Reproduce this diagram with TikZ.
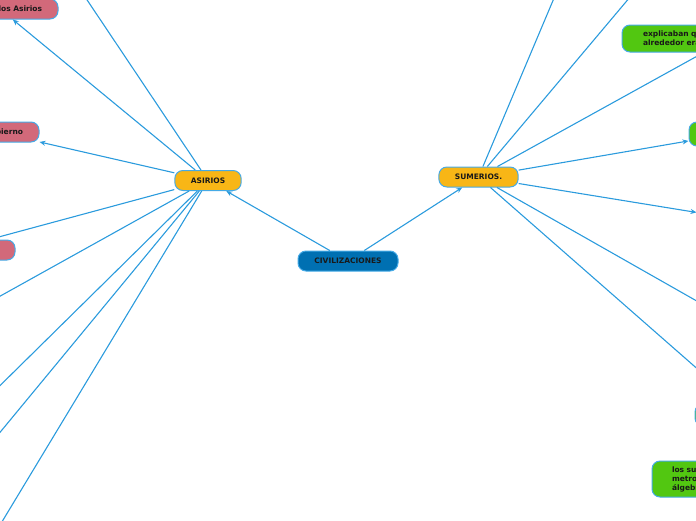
\documentclass[tikz,border=0pt]{standalone}
\usepackage{fontspec}
\setmainfont{DejaVu Sans}
\usetikzlibrary{arrows.meta}
\definecolor{linkblue}{HTML}{2B9BDD}
\definecolor{rimblue}{HTML}{45AAE6}
\definecolor{rootblue}{HTML}{0070B2}
\definecolor{topicgold}{HTML}{F8B616}
\definecolor{leafpink}{HTML}{D2697A}
\definecolor{leafgreen}{HTML}{52C711}

\begin{document}
\begin{tikzpicture}[x=1pt,y=-1pt,
  idea/.style={draw=rimblue,line width=1pt,rounded corners=8pt,minimum height=20pt,
    inner xsep=16pt,inner ysep=3pt,text=black!90,font=\fontsize{7.5}{9}\selectfont\bfseries},
  root/.style={idea,fill=rootblue},
  topic/.style={idea,fill=topicgold},
  pinkleaf/.style={idea,fill=leafpink},
  greenleaf/.style={idea,fill=leafgreen,align=left},
  link/.style={linkblue,line width=1.1pt,-{Stealth[length=6pt,width=5pt]}}]
\useasboundingbox (0,0) rectangle (696,520);
\clip (0,0) rectangle (696,520);

\node[root,minimum width=100pt] (civ) at (348,261) {CIVILIZACIONES};
\node[topic] (asirios) at (208,180.5) {ASIRIOS};
\node[topic] (sumerios) at (478.5,177) {SUMERIOS.};

\node[pinkleaf,text width=84pt,align=right] (reyes) at (0,9) {los Asirios};
\node[pinkleaf,text width=54pt,align=right] (gobierno) at (-4,132) {bierno};
\node[pinkleaf,minimum width=64pt] (asir3) at (-17,250) {};
\coordinate (asir1) at (63,-36);
\coordinate (asir4) at (-41,319);
\coordinate (asir5) at (-41,426);
\coordinate (asir6) at (-41,482);
\coordinate (asir7) at (-38,588);

\node[greenleaf,text width=172pt,inner xsep=21pt,minimum height=27pt] (explica) at (729,38.5) {explicaban qu\\alrededor era};
\node[greenleaf,minimum width=80pt,minimum height=24pt] (sumer2) at (729,134) {};
\node[greenleaf,minimum width=80pt,minimum height=24pt] (sumer3) at (737,219) {};
\node[greenleaf,minimum width=110pt,minimum height=22pt] (sumer6) at (750,415) {};
\node[greenleaf,text width=100pt,inner xsep=20pt,minimum height=36pt] (sumer7) at (722,479) {los sur\\metro\\álgebr};
\coordinate (sumer0) at (568,-35);
\coordinate (sumer1) at (657,-35);
\coordinate (sumer4) at (739,325);

\draw[link] (civ) -- (asirios);
\draw[link] (civ) -- (sumerios);

\draw[link] (asirios) -- (asir1);
\draw[link] (asirios) -- (reyes);
\draw[link] (asirios) -- (gobierno);
\draw[link] (asirios) -- (asir3.west);
\draw[link] (asirios) -- (asir4);
\draw[link] (asirios) -- (asir5);
\draw[link] (asirios) -- (asir6);
\draw[link] (asirios) -- (asir7);

\draw[link] (sumerios) -- (sumer0);
\draw[link] (sumerios) -- (sumer1);
\draw[link] (sumerios) -- (explica);
\draw[link] (sumerios) -- (sumer2);
\draw[link] (sumerios) -- (sumer3);
\draw[link] (sumerios) -- (sumer4);
\draw[link] (sumerios) -- (sumer6);
\end{tikzpicture}
\end{document}
